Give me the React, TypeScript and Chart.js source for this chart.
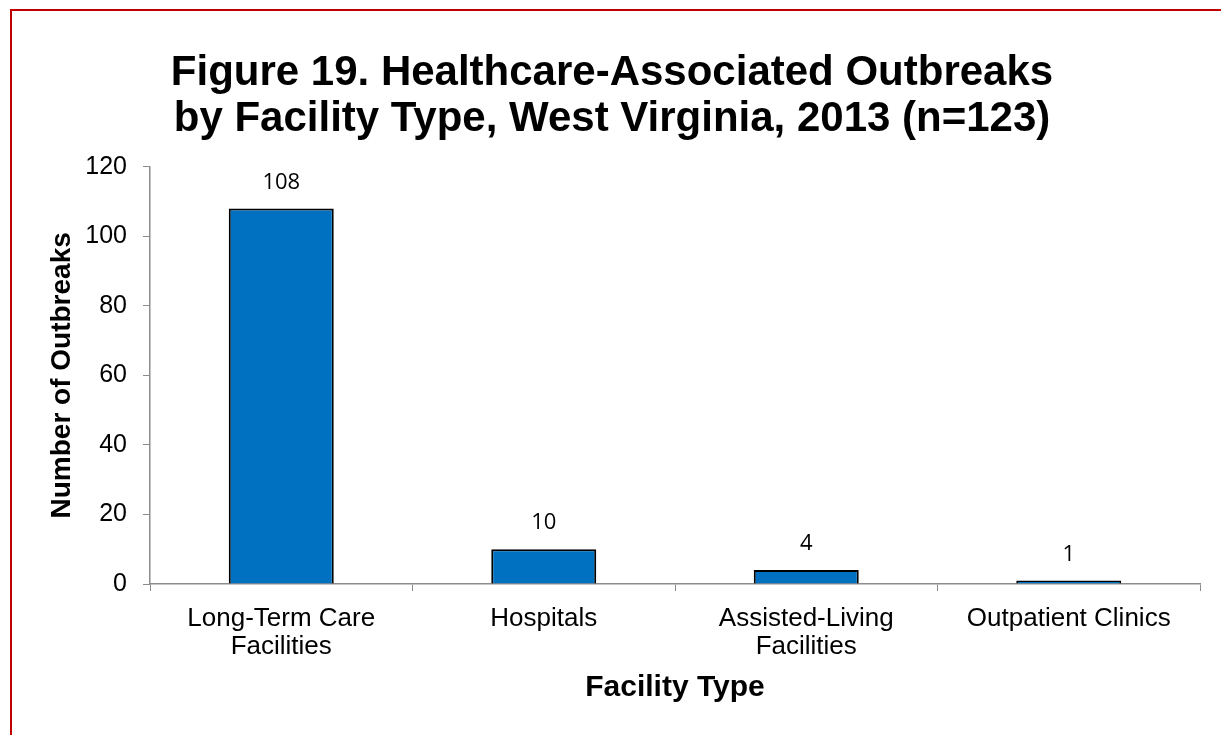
import React, { useEffect, useRef } from "react";
import { Chart, registerables } from "chart.js";

Chart.register(...registerables);

const categories: (string | string[])[] = [
  ["Long-Term Care", "Facilities"],
  "Hospitals",
  ["Assisted-Living", "Facilities"],
  "Outpatient Clinics",
];
const outbreaks: number[] = [108, 10, 4, 1];
const titleLines: string[] = [
  "Figure 19. Healthcare-Associated Outbreaks",
  "by Facility Type, West Virginia, 2013 (n=123)",
];
const yTitle = "Number of Outbreaks";
const xTitle = "Facility Type";

const FONT = "'Liberation Sans', Arial, sans-serif";

const borderPlugin = {
  id: "redBorder",
  beforeDraw(chart: any) {
    const ctx = chart.ctx;
    ctx.save();
    ctx.fillStyle = "#ffffff";
    ctx.fillRect(0, 0, chart.width, chart.height);
    ctx.strokeStyle = "#C00000";
    ctx.lineWidth = 2;
    ctx.beginPath();
    ctx.moveTo(11, chart.height + 5);
    ctx.lineTo(11, 10);
    ctx.lineTo(chart.width + 5, 10);
    ctx.stroke();
    ctx.restore();
  },
};

const valueLabelPlugin = {
  id: "valueLabels",
  afterDatasetsDraw(chart: any) {
    const ctx = chart.ctx;
    const meta = chart.getDatasetMeta(0);
    const data = chart.data.datasets[0].data as number[];
    ctx.save();
    ctx.font = "22px 'Open Sans', sans-serif";
    ctx.fillStyle = "#000000";
    ctx.textAlign = "center";
    ctx.textBaseline = "middle";
    meta.data.forEach((bar: any, i: number) => {
      ctx.fillText(String(data[i]), bar.x, bar.y - 26);
    });
    ctx.restore();
  },
};

export default function App() {
  const ref = useRef<HTMLCanvasElement | null>(null);

  useEffect(() => {
    document.body.style.margin = "0";
    if (!ref.current) return;
    const chart = new Chart(ref.current, {
      type: "bar",
      data: {
        labels: categories,
        datasets: [
          {
            data: outbreaks,
            backgroundColor: "#0070C0",
            borderColor: "#000000",
            borderWidth: 2,
            barPercentage: 0.4,
            categoryPercentage: 1.0,
          },
        ],
      },
      options: {
        animation: false,
        responsive: false,
        maintainAspectRatio: false,
        layout: { padding: { left: 24, right: 21, top: 0, bottom: 0 } },
        plugins: {
          legend: { display: false },
          tooltip: { enabled: false },
          title: {
            display: true,
            text: titleLines,
            color: "#000000",
            font: { family: FONT, size: 42, weight: "bold", lineHeight: 1.08 },
            padding: { top: 51, bottom: 25 },
          },
        },
        scales: {
          x: {
            grid: {
              display: true,
              drawOnChartArea: false,
              drawTicks: true,
              tickLength: 7,
              color: "#8c8c8c",
              offset: true,
            },
            border: { display: true, color: "#8c8c8c", width: 1.5 },
            ticks: {
              color: "#000000",
              font: { family: FONT, size: 26, lineHeight: 1.08 },
              padding: 14,
              maxRotation: 0,
              autoSkip: false,
            },
            title: {
              display: true,
              text: xTitle,
              color: "#000000",
              font: { family: FONT, size: 30, weight: "bold", lineHeight: 1.2 },
              padding: { top: 0, bottom: 29 },
            },
            afterFit(scale: any) {
              scale.height = 151;
            },
          },
          y: {
            min: 0,
            max: 120,
            grid: {
              display: true,
              drawOnChartArea: false,
              drawTicks: true,
              tickLength: 7,
              color: "#8c8c8c",
            },
            border: { display: true, color: "#8c8c8c", width: 1.5 },
            ticks: {
              stepSize: 20,
              color: "#000000",
              font: { family: FONT, size: 25 },
              padding: 16,
            },
            title: {
              display: true,
              text: yTitle,
              color: "#000000",
              font: { family: FONT, size: 28, weight: "bold", lineHeight: 1.2 },
              padding: { top: 21, bottom: 0 },
            },
            afterFit(scale: any) {
              scale.width = 126;
            },
          },
        },
      },
      plugins: [borderPlugin, valueLabelPlugin],
    });
    return () => chart.destroy();
  }, []);

  return (
    <div style={{ position: "fixed", left: 0, top: 0, width: 1221, height: 735 }}>
      <canvas ref={ref} width={1221} height={735} style={{ display: "block" }} />
    </div>
  );
}
